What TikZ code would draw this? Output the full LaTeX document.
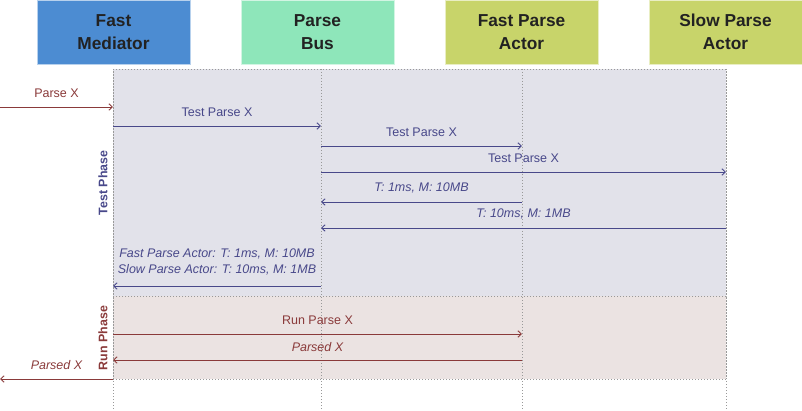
\documentclass[tikz,border=0pt]{standalone}
\usepackage{fontspec}
\setmainfont{Liberation Sans}
\usetikzlibrary{arrows.meta}
\definecolor{cFM}{HTML}{4C8CD2}
\definecolor{cPB}{HTML}{8EE6BA}
\definecolor{cAC}{HTML}{C8D46A}
\definecolor{cHT}{HTML}{222222}
\definecolor{cTest}{HTML}{E2E2EA}
\definecolor{cRun}{HTML}{EBE3E2}
\definecolor{cBlue}{HTML}{48488A}
\definecolor{cRed}{HTML}{8A3A3A}
\definecolor{cDot}{HTML}{999999}
\tikzset{
  hdr/.style={draw=white!60!#1, fill=#1, line width=0.6pt, minimum width=153pt, minimum height=64pt,
    align=center, text=cHT, font=\fontsize{17.3}{23.5}\selectfont\bfseries, inner sep=0pt},
  phasebox/.style={draw=cDot, dash pattern=on 1pt off 2pt, line width=0.8pt, inner sep=0pt},
  life/.style={draw=cDot, dash pattern=on 1pt off 2pt, line width=0.8pt},
  msgB/.style={draw=cBlue, line width=0.9pt, -{Straight Barb[length=3.5pt,width=6.5pt]}},
  msgR/.style={draw=cRed, line width=0.9pt, -{Straight Barb[length=3.5pt,width=6.5pt]}},
  lbl/.style={midway, yshift=13.5pt, inner sep=0pt, text height=8.9pt, text depth=0pt,
    font=\fontsize{12.5}{14}\selectfont},
  lblB/.style={lbl, text=cBlue},
  lblR/.style={lbl, text=cRed},
  lblI/.style={font=\fontsize{12.5}{14}\selectfont\itshape},
  phaselbl/.style={rotate=90, font=\fontsize{12.4}{14}\selectfont\bfseries, inner sep=0pt}
}
\begin{document}
\begin{tikzpicture}[x=1pt,y=-1pt]
\useasboundingbox (0,0) rectangle (802,411);
% headers
\node[hdr=cFM] (FM) at (113.5,32) {Fast\\Mediator};
\node[hdr=cPB] (PB) at (317.5,32) {Parse\\Bus};
\node[hdr=cAC] (FPA) at (521.5,32) {Fast Parse\\Actor};
\node[hdr=cAC] (SPA) at (725.5,32) {Slow Parse\\Actor};
% phase boxes
\node[phasebox, fill=cTest, minimum width=613pt, minimum height=227pt] (TP) at (419.5,182.5) {};
\node[phasebox, fill=cRun, minimum width=613pt, minimum height=83pt] (RP) at (419.5,337.5) {};
% lifelines
\coordinate (LFM) at (113,69);
\coordinate (LPB) at (321,69);
\coordinate (LFPA) at (522,69);
\coordinate (LSPA) at (726,69);
\coordinate (Lin) at (0,69);
\foreach \c in {LFM,LPB,LFPA,LSPA} \draw[life] (\c) -- (\c |- 0,411);
% phase labels
\node[phaselbl, text=cBlue] (TPL) at (103,183) {Test Phase};
\node[phaselbl, text=cRed] (RPL) at (103,338) {Run Phase};
% messages
\draw[msgR] (Lin |- 0,107) -- node[lblR] {Parse X} (LFM |- 0,107);
\draw[msgB] (LFM |- 0,126) -- node[lblB] {Test Parse X} (LPB |- 0,126);
\draw[msgB] (LPB |- 0,146) -- node[lblB] {Test Parse X} (LFPA |- 0,146);
\draw[msgB] (LPB |- 0,172) -- node[lblB] {Test Parse X} (LSPA |- 0,172);
\draw[msgB] (LFPA |- 0,202) -- node[lblB, lblI, yshift=1.5pt] {T: 1ms, M: 10MB} (LPB |- 0,202);
\draw[msgB] (LSPA |- 0,228) -- node[lblB, lblI, yshift=1pt] {T: 10ms, M: 1MB} (LPB |- 0,228);
\draw[msgB] (LPB |- 0,286) --
  node[lblB, lblI, yshift=19pt] {Fast Parse Actor: T: 1ms, M: 10MB}
  node[lblB, lblI, yshift=3pt] {Slow Parse Actor: T: 10ms, M: 1MB}
  (LFM |- 0,286);
\draw[msgR] (LFM |- 0,334) -- node[lblR] {Run Parse X} (LFPA |- 0,334);
\draw[msgR] (LFPA |- 0,360) -- node[lblR, lblI, yshift=-0.5pt] {Parsed X} (LFM |- 0,360);
\draw[msgR] (LFM |- 0,379) -- node[lblR, lblI] {Parsed X} (Lin |- 0,379);
\end{tikzpicture}
\end{document}
